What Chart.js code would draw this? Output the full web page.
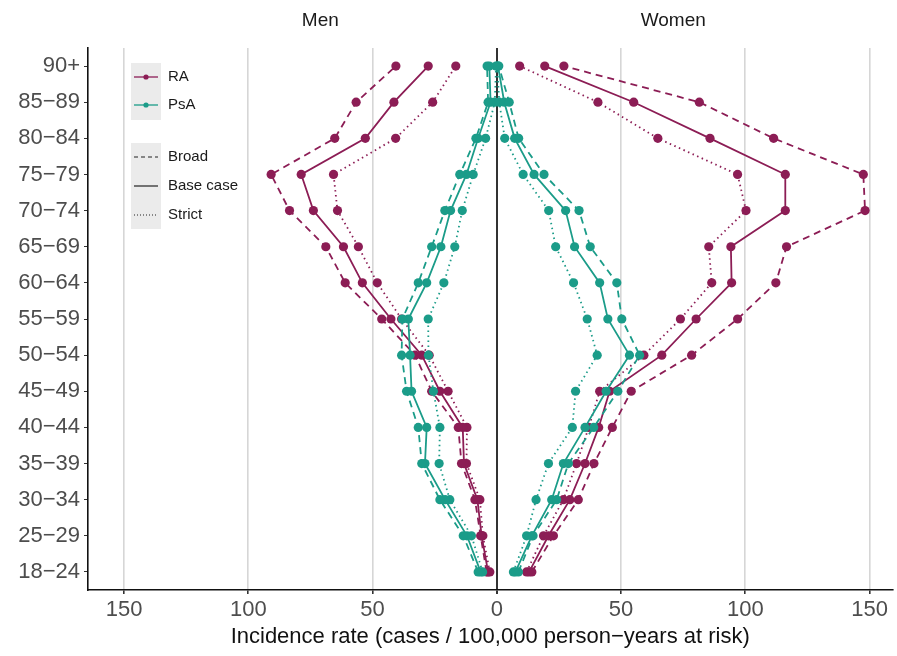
<!DOCTYPE html>
<html>
<head>
<meta charset="utf-8">
<script src="https://cdn.jsdelivr.net/npm/chart.js@4.4.0/dist/chart.umd.min.js"></script>
<style>
  html, body { margin: 0; padding: 0; background: #fff; }
  #wrap { width: 897px; height: 656px; }
</style>
</head>
<body>
<div id="wrap"><canvas id="irChart" width="897" height="656"></canvas></div>
<script>
// age groups, youngest first (drawn bottom to top)
const ages = ['18−24', '25−29', '30−34', '35−39', '40−44', '45−49', '50−54', '55−59',
              '60−64', '65−69', '70−74', '75−79', '80−84', '85−89', '90+'];

// incidence per 100,000 person-years, men
const menRA_broad  = [4.1, 6.5, 8.8, 14.2, 15.5, 26.2, 32.9, 46.3, 61.0, 68.8, 83.4, 90.8, 65.2, 56.6, 40.6];
const menRA_base   = [3.5, 6.1, 7.8, 13.2, 13.7, 22.9, 30.2, 42.6, 54.1, 61.7, 73.8, 78.7, 52.9, 41.4, 27.6];
const menRA_strict = [2.8, 5.6, 6.8, 12.2, 12.0, 19.6, 27.2, 38.3, 48.1, 55.7, 64.1, 65.7, 40.7, 25.8, 16.5];
const menPsA_broad  = [7.5, 13.5, 22.9, 30.2, 31.6, 36.3, 38.3, 38.0, 31.6, 26.2, 20.9, 14.9, 8.4, 3.5, 3.9];
const menPsA_base   = [6.5, 12.0, 20.8, 28.9, 28.2, 34.3, 34.9, 35.6, 28.2, 22.5, 18.6, 12.2, 7.5, 2.5, 3.0];
const menPsA_strict = [5.7, 10.2, 18.9, 23.2, 22.9, 25.5, 27.5, 27.6, 21.3, 16.9, 13.9, 9.5, 4.5, 0.8, 0.3];

// women
const womenRA_broad  = [14.1, 22.8, 32.8, 39.1, 46.5, 54.1, 78.4, 96.9, 112.3, 116.6, 148.2, 147.5, 111.4, 81.5, 27.0];
const womenRA_base   = [13.0, 20.8, 29.4, 35.5, 41.0, 45.4, 66.4, 80.2, 94.5, 94.2, 116.1, 116.1, 85.8, 55.1, 19.3];
const womenRA_strict = [12.0, 18.8, 26.8, 32.1, 37.0, 41.4, 59.2, 73.9, 86.5, 85.3, 100.3, 96.9, 64.8, 40.7, 9.2];
const womenPsA_broad  = [8.7, 14.6, 24.1, 28.8, 39.0, 48.7, 57.5, 50.3, 48.3, 37.6, 33.1, 19.0, 8.8, 5.0, 0.8];
const womenPsA_base   = [7.5, 14.1, 22.1, 26.8, 35.5, 44.0, 53.4, 44.7, 41.4, 31.3, 27.7, 15.0, 7.2, 3.0, 0.5];
const womenPsA_strict = [6.7, 12.0, 15.8, 20.8, 30.4, 31.7, 40.4, 36.4, 30.9, 23.7, 20.9, 10.6, 3.2, 1.0, 0.2];

const xTicks = [-150, -100, -50, 0, 50, 100, 150];
const sexLabels = ['Men', 'Women'];

const RA_COL = '#8c1d55';
const PSA_COL = '#1b9c89';
const DASH = { broad: [7, 5], base: [], strict: [1.5, 3.5] };

function series(vals, sign, col, def) {
  return {
    data: vals.map((v, i) => ({ x: sign * v, y: ages[i] })),
    borderColor: col,
    backgroundColor: col,
    borderWidth: 1.8,
    borderDash: DASH[def],
    pointRadius: 4.6,
    pointBorderWidth: 0,
    tension: 0,
    fill: false
  };
}

const datasets = [
  series(menPsA_broad, -1, PSA_COL, 'broad'),
  series(menPsA_base, -1, PSA_COL, 'base'),
  series(menPsA_strict, -1, PSA_COL, 'strict'),
  series(womenPsA_broad, 1, PSA_COL, 'broad'),
  series(womenPsA_base, 1, PSA_COL, 'base'),
  series(womenPsA_strict, 1, PSA_COL, 'strict'),
  series(menRA_broad, -1, RA_COL, 'broad'),
  series(menRA_base, -1, RA_COL, 'base'),
  series(menRA_strict, -1, RA_COL, 'strict'),
  series(womenRA_broad, 1, RA_COL, 'broad'),
  series(womenRA_base, 1, RA_COL, 'base'),
  series(womenRA_strict, 1, RA_COL, 'strict')
];

// facet labels + the ggplot style legend inside the panel
const extras = {
  id: 'extras',
  afterDraw(chart) {
    const ctx = chart.ctx;
    const xs = chart.scales.x;
    ctx.save();
    ctx.fillStyle = '#1a1a1a';
    ctx.font = '19px "Liberation Sans", Arial, sans-serif';
    ctx.textAlign = 'center';
    ctx.textBaseline = 'middle';
    ctx.fillText(sexLabels[0], xs.getPixelForValue(-71), 21);
    ctx.fillText(sexLabels[1], xs.getPixelForValue(71), 21);

    // legend boxes
    ctx.fillStyle = '#ebebeb';
    ctx.fillRect(131, 63, 30, 57);
    ctx.fillRect(131, 143, 30, 86);

    ctx.font = '15px "Liberation Sans", Arial, sans-serif';
    ctx.textAlign = 'left';
    const rows1 = [['RA', RA_COL, 77], ['PsA', PSA_COL, 105]];
    rows1.forEach(([lab, col, y]) => {
      ctx.strokeStyle = col;
      ctx.lineWidth = 1.3;
      ctx.setLineDash([]);
      ctx.beginPath(); ctx.moveTo(134, y); ctx.lineTo(158, y); ctx.stroke();
      ctx.fillStyle = col;
      ctx.beginPath(); ctx.arc(146, y, 2.6, 0, Math.PI * 2); ctx.fill();
      ctx.fillStyle = '#1a1a1a';
      ctx.fillText(lab, 168, y);
    });
    const rows2 = [['Broad', 'broad', 157], ['Base case', 'base', 186], ['Strict', 'strict', 215]];
    rows2.forEach(([lab, def, y]) => {
      ctx.strokeStyle = '#222';
      ctx.lineWidth = 1.2;
      ctx.setLineDash(def === 'broad' ? [4, 3] : def === 'strict' ? [1, 2] : []);
      ctx.beginPath(); ctx.moveTo(134, y); ctx.lineTo(158, y); ctx.stroke();
      ctx.fillStyle = '#1a1a1a';
      ctx.fillText(lab, 168, y);
    });
    ctx.restore();
  }
};

new Chart(document.getElementById('irChart'), {
  type: 'line',
  data: { labels: ages, datasets: datasets },
  options: {
    responsive: false,
    animation: false,
    indexAxis: 'y',
    layout: { padding: { top: 48, right: 0, left: 0, bottom: 0 } },
    plugins: { legend: { display: false }, tooltip: { enabled: false } },
    scales: {
      x: {
        type: 'linear',
        min: -164.5,
        max: 159.2,
        afterBuildTicks: (s) => { s.ticks = xTicks.map(v => ({ value: v })); },
        afterFit: (s) => { s.height = 66; },
        ticks: {
          includeBounds: false,
          padding: 3,
          color: '#4d4d4d',
          font: { family: '"Liberation Sans", Arial, sans-serif', size: 22 },
          callback: (v) => String(Math.abs(v))
        },
        grid: {
          color: (c) => c.tick && c.tick.value === 0 ? '#333' : '#d6d6d6',
          lineWidth: (c) => c.tick && c.tick.value === 0 ? 2 : 1.6,
          tickColor: '#333',
          tickLength: 4
        },
        border: { display: true, color: '#111', width: 1.6 },
        title: {
          display: true,
          text: 'Incidence rate (cases / 100,000 person−years at risk)',
          color: '#111',
          font: { family: '"Liberation Sans", Arial, sans-serif', size: 22 },
          padding: { top: 0, bottom: 6 }
        }
      },
      y: {
        type: 'category',
        labels: ages,
        reverse: true,
        offset: true,
        afterFit: (s) => { s.width = 88; },
        ticks: {
          padding: 4,
          color: '#4d4d4d',
          font: { family: '"Liberation Sans", Arial, sans-serif', size: 22 }
        },
        grid: { drawOnChartArea: false, tickColor: '#333', tickLength: 4 },
        border: { display: true, color: '#111', width: 1.6 }
      }
    }
  },
  plugins: [extras]
});
</script>
</body>
</html>
